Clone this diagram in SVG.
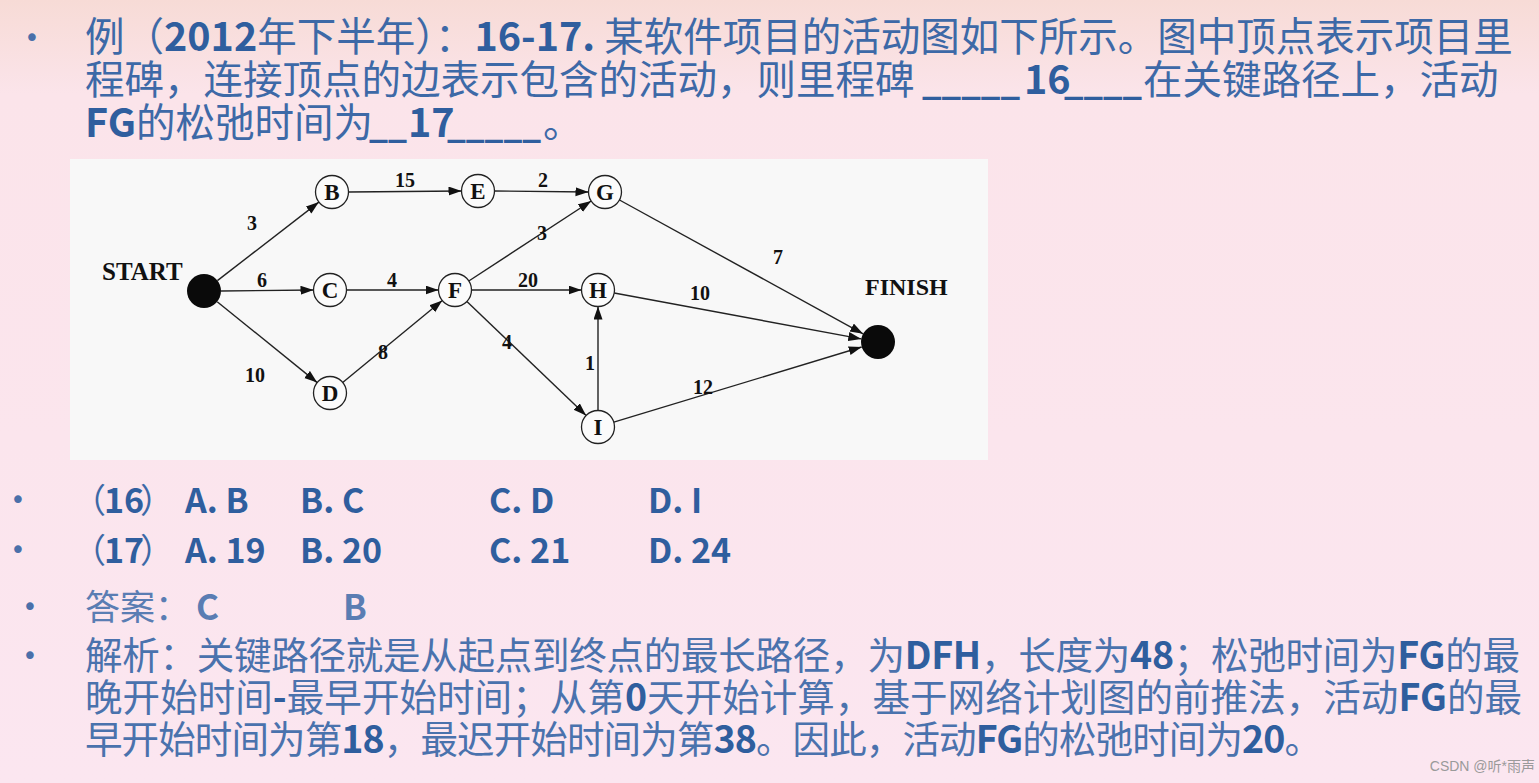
<svg xmlns="http://www.w3.org/2000/svg" width="1539" height="783" viewBox="0 0 1539 783">
<defs>
<linearGradient id="bg" x1="0" y1="0" x2="0" y2="1">
<stop offset="0" stop-color="#f7dbd6"/>
<stop offset="0.12" stop-color="#fbe4ea"/>
<stop offset="1" stop-color="#fbe6f0"/>
</linearGradient>
<marker id="ah" markerUnits="userSpaceOnUse" markerWidth="14" markerHeight="10" refX="13" refY="4.5" orient="auto">
<path d="M0,0 L13,4.5 L0,9 z" fill="#111"/>
</marker>
<style>
.t{font-family:"Noto Sans CJK SC","Noto Sans",sans-serif;fill:#3d69a7;}
.h{font-size:39.5px;}
.o{font-size:34px;}
.a{font-size:37.5px;fill:#4a72ad;}
.b{font-weight:bold;fill:#2f5e9e;}
.bul{font-family:"DejaVu Sans",sans-serif;fill:#4a70aa;font-size:26px;text-anchor:middle;}
.edge{stroke:#222;stroke-width:1.4;fill:none;marker-end:url(#ah);}
.node{fill:#fbfbfb;stroke:#222;stroke-width:1.3;}
.nl{font-family:"Liberation Serif",serif;font-weight:bold;font-size:23px;text-anchor:middle;fill:#111;}
.el{font-family:"Liberation Serif",serif;font-weight:bold;font-size:20px;text-anchor:middle;fill:#111;}
.big{font-family:"Liberation Serif",serif;font-weight:bold;font-size:24px;fill:#111;}
</style>
</defs>
<rect width="1539" height="783" fill="url(#bg)"/>

<g id="header">
<text class="bul" x="32" y="47">•</text>
<text class="t h" x="85" y="51">例（<tspan class="b">2012</tspan>年下半年）：<tspan class="b">16-17. </tspan>某软件项目的活动图如下所示。图中顶点表示项目里</text>
<text class="t h" y="94"><tspan x="85">程碑，连接顶点的边表示包含的活动，则里程碑</tspan><tspan class="b" x="922" textLength="98" lengthAdjust="spacingAndGlyphs">_____</tspan><tspan class="b" x="1024">16</tspan><tspan class="b" x="1064" textLength="78" lengthAdjust="spacingAndGlyphs">____</tspan><tspan x="1143">在关键路径上，活动</tspan></text>
<text class="t h" y="137"><tspan x="85"><tspan class="b">FG</tspan>的松弛时间为</tspan><tspan class="b" x="369" textLength="38" lengthAdjust="spacingAndGlyphs">__</tspan><tspan class="b" x="408">17</tspan><tspan class="b" x="447" textLength="94" lengthAdjust="spacingAndGlyphs">_____</tspan><tspan x="543">。</tspan></text>
</g>

<rect x="70" y="159" width="918" height="301" fill="#f8f8f8"/>

<g id="connectors">
<line class="edge" x1="217.4" y1="280.6" x2="318.9" y2="202.1"/>
<line class="edge" x1="348.5" y1="192" x2="461.5" y2="191"/>
<line class="edge" x1="494.5" y1="191" x2="588.5" y2="192"/>
<line class="edge" x1="221" y1="291" x2="313.5" y2="290"/>
<line class="edge" x1="346.5" y1="290" x2="438.5" y2="290"/>
<line class="edge" x1="217.2" y1="301.7" x2="317.2" y2="382.6"/>
<line class="edge" x1="342.7" y1="382.5" x2="442.3" y2="300.5"/>
<line class="edge" x1="468.8" y1="281" x2="591.2" y2="201"/>
<line class="edge" x1="471.5" y1="290" x2="581.5" y2="290"/>
<line class="edge" x1="466.9" y1="301.4" x2="586.1" y2="415.6"/>
<line class="edge" x1="619.5" y1="200" x2="863.1" y2="333.8"/>
<line class="edge" x1="614.2" y1="293" x2="861.3" y2="338.9"/>
<line class="edge" x1="613.8" y1="422.2" x2="861.7" y2="347"/>
<line class="edge" x1="598" y1="410.5" x2="598" y2="306.5"/>
<text class="el" x="252" y="230">3</text>
<text class="el" x="405" y="187">15</text>
<text class="el" x="543" y="187">2</text>
<text class="el" x="262" y="287">6</text>
<text class="el" x="392" y="287">4</text>
<text class="el" x="255" y="382">10</text>
<text class="el" x="383" y="359">8</text>
<text class="el" x="542" y="240">3</text>
<text class="el" x="528" y="287">20</text>
<text class="el" x="507" y="349">4</text>
<text class="el" x="778" y="264">7</text>
<text class="el" x="700" y="300">10</text>
<text class="el" x="590" y="370">1</text>
<text class="el" x="703" y="394">12</text>
</g>

<g id="node-start">
<circle cx="204" cy="291" r="17" fill="#0a0a0a"/>
<text class="big" x="102" y="280" style="font-size:25px">START</text>
</g>
<g id="node-finish">
<circle cx="878" cy="342" r="17" fill="#0a0a0a"/>
<text class="big" x="865" y="295">FINISH</text>
</g>
<g id="node-B"><circle class="node" cx="332" cy="192" r="16.5"/><text class="nl" x="332" y="200">B</text></g>
<g id="node-E"><circle class="node" cx="478" cy="191" r="16.5"/><text class="nl" x="478" y="199">E</text></g>
<g id="node-G"><circle class="node" cx="605" cy="192" r="16.5"/><text class="nl" x="605" y="200">G</text></g>
<g id="node-C"><circle class="node" cx="330" cy="290" r="16.5"/><text class="nl" x="330" y="298">C</text></g>
<g id="node-F"><circle class="node" cx="455" cy="290" r="16.5"/><text class="nl" x="455" y="298">F</text></g>
<g id="node-H"><circle class="node" cx="598" cy="290" r="16.5"/><text class="nl" x="598" y="298">H</text></g>
<g id="node-D"><circle class="node" cx="330" cy="393" r="16.5"/><text class="nl" x="330" y="401">D</text></g>
<g id="node-I"><circle class="node" cx="598" cy="427" r="16.5"/><text class="nl" x="598" y="435">I</text></g>

<g id="options">
<text class="bul" x="18" y="509">•</text>
<text class="t o" y="513"><tspan x="72">（</tspan><tspan class="b" x="104">16</tspan><tspan x="140">）</tspan><tspan class="b" x="185">A. B</tspan><tspan class="b" x="300">B. C</tspan><tspan class="b" x="489">C. D</tspan><tspan class="b" x="648">D. I</tspan></text>
<text class="bul" x="18" y="559">•</text>
<text class="t o" y="563"><tspan x="72">（</tspan><tspan class="b" x="104">17</tspan><tspan x="140">）</tspan><tspan class="b" x="185">A. 19</tspan><tspan class="b" x="300">B. 20</tspan><tspan class="b" x="489">C. 21</tspan><tspan class="b" x="648">D. 24</tspan></text>
</g>

<g id="answer">
<text class="bul" x="30" y="616">•</text>
<text class="t" y="620" style="fill:#5a7db3;font-size:35px"><tspan x="85">答案：</tspan><tspan x="196" style="font-weight:bold">C</tspan><tspan x="343" style="font-weight:bold">B</tspan></text>
</g>

<g id="analysis">
<text class="bul" x="30" y="665">•</text>
<text class="t a" x="85" y="669" textLength="1435">解析：关键路径就是从起点到终点的最长路径，为<tspan class="b">DFH</tspan>，长度为<tspan class="b">48</tspan>；松弛时间为<tspan class="b">FG</tspan>的最</text>
<text class="t a" x="85" y="711" textLength="1437">晚开始时间<tspan class="b">-</tspan>最早开始时间；从第<tspan class="b">0</tspan>天开始计算，基于网络计划图的前推法，活动<tspan class="b">FG</tspan>的最</text>
<text class="t a" x="85" y="753" textLength="1237">早开始时间为第<tspan class="b">18</tspan>，最迟开始时间为第<tspan class="b">38</tspan>。因此，活动<tspan class="b">FG</tspan>的松弛时间为<tspan class="b">20</tspan>。</text>
</g>

<text x="1535" y="771" text-anchor="end" style="font-family:'Liberation Sans','Noto Sans CJK SC',sans-serif;font-size:14px;fill:#9a9a9a">CSDN @听*雨声</text>
</svg>
